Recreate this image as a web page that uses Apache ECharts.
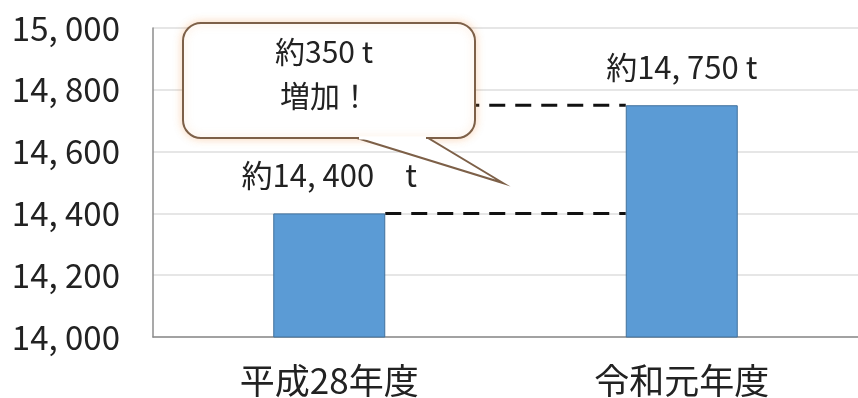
<!DOCTYPE html>
<html><head><meta charset="utf-8">
<script src="https://cdn.jsdelivr.net/npm/echarts@6/dist/echarts.min.js"></script>
<style>html,body{margin:0;padding:0;background:#fff}#c{width:858px;height:398px}</style>
</head><body><div id="c"></div>
<script>
var categories = ['平成28年度', '令和元年度'];
var values = [14400, 14750];
var barLabels = ['約14, 400\u3000t', '約14, 750 t'];
var guideValues = [14400, 14750];
var yMin = 14000, yMax = 15000, yStep = 200;
var calloutLines = ['約350 t', '増加！'];

var FONT = '"Noto Sans CJK JP", "Noto Sans", sans-serif';
var BAR_W = 112;
var chart = echarts.init(document.getElementById('c'), null, {renderer: 'canvas'});
function fmt(v){ var t = Math.floor(v/1000), r = String(v%1000); while(r.length<3) r='0'+r; return t+', '+r; }
var option = {
  animation: false,
  backgroundColor: '#fff',
  grid: {left: 153, top: 28, height: 309, width: 714},
  xAxis: {
    type: 'category', data: categories,
    axisLine: {lineStyle: {color: '#8c8c8c', width: 1.5}},
    axisTick: {show: false},
    axisLabel: {color: '#222', fontFamily: FONT, fontSize: 35, margin: 26}
  },
  yAxis: {
    type: 'value', min: yMin, max: yMax, interval: yStep,
    axisLine: {show: true, lineStyle: {color: '#8c8c8c', width: 1.5}},
    axisTick: {show: false},
    splitLine: {lineStyle: {color: '#dedede', width: 1.5}},
    axisLabel: {color: '#222', fontFamily: FONT, fontSize: 33, margin: 33, formatter: fmt}
  },
  series: [
    {type: 'custom', z: 1, silent: true, clip: false,
     data: guideValues.map(function(v){ return [0, v]; }),
     encode: {x: 0, y: 1},
     renderItem: function(params, api){
       var v = api.value(1);
       var a = api.coord([0, v]), b = api.coord([1, v]);
       return {type: 'line',
         shape: {x1: a[0] + BAR_W/2, y1: a[1], x2: b[0] - BAR_W/2, y2: b[1]},
         style: {stroke: '#111', lineWidth: 3, lineDash: [16, 10], fill: null}};
     }},
    {type: 'bar', data: values.map(function(v,i){ return {value: v, label: {formatter: barLabels[i]}}; }),
     barWidth: BAR_W, z: 3,
     itemStyle: {color: '#5b9bd5', borderColor: '#41719c', borderWidth: 1},
     label: {show: true, position: 'top', distance: 23, color: '#222', fontFamily: FONT, fontSize: 31}}
  ],
  graphic: [
    {type: 'rect', z: 100,
     shape: {x: 183, y: 23, width: 292, height: 115, r: 18},
     style: {fill: '#fff', stroke: '#7d6048', lineWidth: 2, shadowBlur: 8, shadowColor: 'rgba(240,150,70,0.35)'}},
    {type: 'polygon', z: 101,
     shape: {points: [[357, 138], [503, 183], [428, 138]]},
     style: {fill: '#fff', stroke: '#7d6048', lineWidth: 2}},
    {type: 'line', z: 102,
     shape: {x1: 359, y1: 138, x2: 426, y2: 138},
     style: {stroke: '#fff', lineWidth: 3}},
    {type: 'text', z: 103, x: 324, y: 52,
     style: {text: calloutLines[0], fill: '#222', font: '30px ' + FONT, textAlign: 'center', textVerticalAlign: 'middle'}},
    {type: 'text', z: 103, x: 325, y: 96,
     style: {text: calloutLines[1], fill: '#222', font: '30px ' + FONT, textAlign: 'center', textVerticalAlign: 'middle'}}
  ]
};
chart.setOption(option);
</script></body></html>
